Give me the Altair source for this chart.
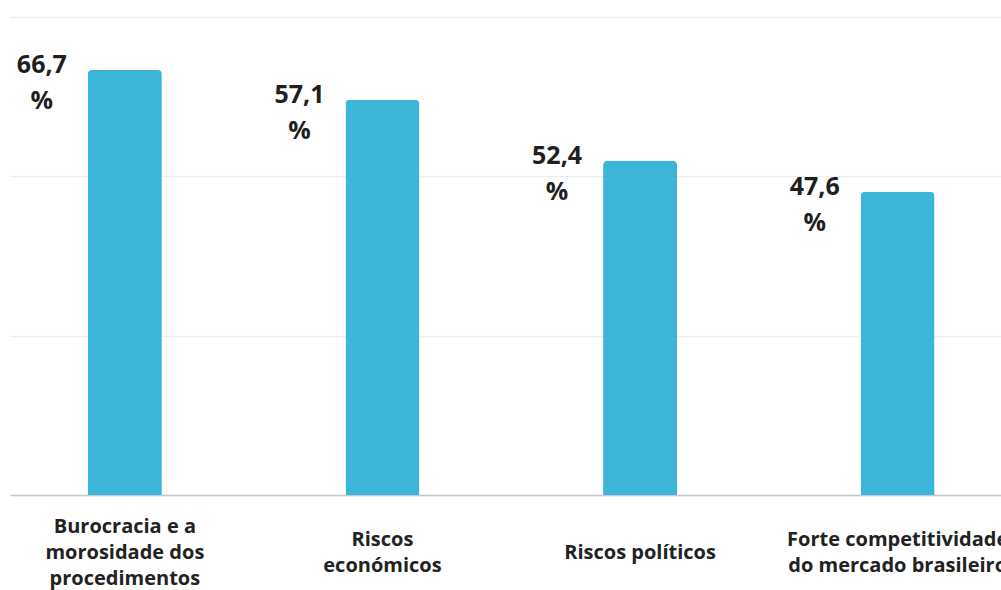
import altair as alt
import pandas as pd

categories = [
    "Burocracia e a\nmorosidade dos\nprocedimentos",
    "Riscos\neconómicos",
    "Riscos políticos",
    "Forte competitividade\ndo mercado brasileiro",
]
bar_values = [66.7, 62.0, 52.4, 47.6]
value_labels = ["66,7 %", "57,1 %", "52,4 %", "47,6 %"]
grid_values = [0, 25, 50, 75]

df = pd.DataFrame({"cat": categories, "value": bar_values, "label": value_labels})

x = alt.X(
    "cat:N",
    sort=categories,
    title=None,
    scale=alt.Scale(paddingInner=0.713, paddingOuter=0.28, align=0.54),
    axis=alt.Axis(
        labelAngle=0,
        labelExpr="split(datum.label, '\\n')",
        labelFont="Open Sans",
        labelFontWeight="bold",
        labelFontSize=20,
        labelColor="#222222",
        labelLineHeight=26,
        labelBaseline={
            "condition": [
                {"test": "length(split(datum.value, '\\n')) >= 3", "value": "line-bottom"},
                {"test": "length(split(datum.value, '\\n')) == 1", "value": "line-top"},
            ],
            "value": "middle",
        },
        labelPadding=44,
        labelLimit=500,
        labelOverlap=False,
        ticks=False,
        tickSize=0,
        domainColor="#c8c8c8",
        domainWidth=1.5,
        grid=False,
    ),
)
y = alt.Y(
    "value:Q",
    scale=alt.Scale(domain=[0, 75], nice=False),
    axis=alt.Axis(
        values=grid_values,
        labels=False,
        ticks=False,
        domain=False,
        title=None,
        gridColor="#eeeeee",
        gridWidth=1.5,
    ),
)

base = alt.Chart(df)
bars = base.mark_bar(
    color="#3db5d8", cornerRadiusTopLeft=4, cornerRadiusTopRight=4
).encode(x=x, y=y)
text = base.mark_text(
    font="Open Sans",
    fontWeight="bold",
    fontSize=25,
    color="#1f1f1f",
    align="center",
    baseline="alphabetic",
    dx=-83,
    dy=3,
    lineBreak=" ",
    lineHeight=36,
).encode(x=x, y=y, text="label:N")

chart = (
    alt.layer(bars, text)
    .properties(
        width=991,
        height=478,
        autosize=alt.AutoSizeParams(type="none"),
        padding={"left": 10, "top": 17, "right": 0, "bottom": 95},
        background="white",
    )
    .configure_view(stroke=None)
)

chart.save("out.html", embed_options={"renderer": "svg", "actions": False})
